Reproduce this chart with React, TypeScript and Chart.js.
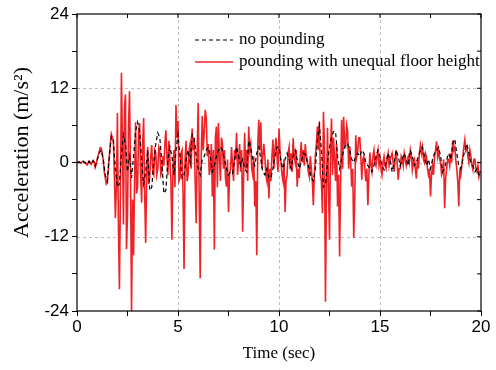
import { useEffect, useRef } from 'react';
import { Chart, registerables } from 'chart.js';

Chart.register(...registerables);

// sampling steps of the two records (s)
const NO_POUNDING_STEP = 0.1;
const POUNDING_STEP = 0.05;

// no pounding (m/s^2), one value every 0.1 s from 0 to 20 s
const noPounding: number[] = [
  0, 0.1, -0.1, 0.2, 0, -0.3, 0.2, -0.2, 0.3, -0.6,
  0.4, 1.5, 2.0, 0.5, -2.0, -3.0, 1.0, 4.2, 3.5, -1.0,
  -4.0, -3.5, 1.5, 4.5, 3.0, -1.5, 1.0, -2.5, 1.0, 5.0,
  6.5, 5.0, 0.5, -3.5, -1.5, 2.0, -4.5, -4.0, 0.0, 3.0,
  4.8, 4.0, 0.0, -5.0, -4.5, 0.5, 2.5, 1.0, -2.0, 2.0,
  4.5, 1.0, -2.5, -2.0, 0.5, 2.0, 0.0, 4.5, 4.0, 1.0,
  -1.0, -2.0, 0.5, 1.0, 2.0, 2.5, 1.0, -1.5, -0.5, 1.0,
  2.0, 2.5, 2.0, 0.5, -1.0, -2.0, -1.5, -1.8, 0.5, 2.5,
  1.0, -0.5, 0.5, -1.0, -1.5, 3.5, 2.5, 0.5, -0.5, 1.5,
  2.5, 0.5, -1.5, -2.0, -1.0, -2.5, -2.5, -1.0, 1.0, 2.5,
  2.5, 0.0, -1.0, 0.5, 1.5, 0.5, -1.0, 1.0, 2.0, 0.5,
  -1.0, 0.0, 1.5, 1.3, 0.0, -1.0, -2.5, -3.0, -1.0, 3.5,
  6.0, 2.0, -4.0, -3.5, 0.0, 2.5, 4.0, 5.0, 5.0, 1.0,
  -1.0, 0.5, 2.0, 3.0, 3.0, 2.0, 0.5, 0.0, 1.0, 1.5,
  1.0, 2.0, 1.5, 0.0, -0.5, -1.0, -1.5, -0.5, 1.0, 2.0,
  1.0, -0.5, -1.2, 0.0, 1.5, 0.5, -1.5, 0.0, 2.0, 1.0,
  -0.5, 0.5, 1.5, 0.5, -0.5, 2.0, 1.0, -0.5, 0.0, 1.0,
  2.0, 2.5, 1.0, -0.5, 0.5, -1.0, 0.5, 1.5, 2.0, 2.5,
  1.0, -1.5, -1.0, 0.5, 1.5, 0.5, 3.0, 3.8, 1.5, -0.5,
  -1.0, 0.5, 2.0, 3.0, 1.5, 0.0, -0.5, -1.5, -1.0, -2.0,
  -2.5,
];

// pounding with unequal floor height (m/s^2), one value every 0.05 s
const poundingUnequal: number[] = [
  0, 0.05, 0.1, 0, -0.1, 0.1, 0.2, 0, 0, -0.2, -0.4, -0.1, 0.2, 0, -0.3, 0, 0.3, 0.1, -0.8, -0.3,
  0.5, 1.2, 1.8, 2.4, 2.3, 1.5, 0.3, -1.5, -2.5, -3.5, -3.3, -1.0, 1.0, 3.0, 4.6, 4.0, 3.6, -2.0, -9.0, -4.0,
  8.0, -10.0, -20.5, -5.0, 14.5, 3.0, -10.0, 9.0, 11.0, -14.0, -8.5, 6.0, 11.5, -2.0, -24.5, -6.0, -15.0, -3.0, 6.5, -5.0,
  -4.0, 5.0, 6.4, -2.0, -6.5, 3.0, 7.2, -5.0, -13.0, -2.0, 2.5, -3.5, -2.3, 1.0, 2.8, -1.5, -2.0, 2.0, 1.5, -2.0,
  -1.0, 2.5, 2.0, -2.0, -1.5, 1.0, -0.5, 3.0, 5.2, 1.0, -2.0, 3.5, 0.5, -3.0, -12.5, -1.0, 2.0, -4.0, 9.3, 4.0,
  6.7, -3.0, -2.5, 1.5, 2.0, -5.0, -17.2, 0.5, 3.5, -3.0, -2.0, 2.0, 3.0, -1.0, 5.5, 2.0, 4.0, -3.0, -9.8, 2.0,
  9.6, -6.0, -18.7, 1.0, 7.5, 2.0, 5.0, 8.5, 7.2, 1.0, 3.0, -2.0, -1.0, 3.0, -5.5, 2.0, -14.1, 4.0, 5.8, -4.0,
  6.4, 1.0, -3.0, 4.0, 3.0, -1.0, 2.0, -2.5, -3.9, 0.5, -8.0, -2.0, -1.0, 2.5, -0.5, -3.0, 2.0, 0.5, 4.8, -2.0,
  0.5, 3.0, -1.5, 2.0, -11.2, -2.0, 4.8, -1.0, 2.0, -3.0, 5.8, 2.0, 3.0, -1.0, -2.0, 1.0, -7.1, -3.0, -15.0, 3.0,
  6.9, 2.0, 6.5, -1.0, 1.0, 3.0, 1.0, -2.0, -3.0, 0.5, -5.8, -1.0, -3.0, 1.0, 3.7, -1.0, 2.0, 4.0, 1.0, -1.5,
  5.5, 2.0, 0.0, -2.0, -3.0, 0.5, -8.0, -3.0, -2.0, 1.5, 2.5, -1.0, 1.5, -1.5, 3.9, 1.0, 0.0, 2.0, -3.9, -1.0,
  -2.5, 1.0, 3.3, 0.0, 2.0, -0.5, 3.0, 1.0, 0.5, -1.5, -2.3, 1.0, -1.0, -3.0, -6.9, -2.0, 1.0, 3.0, 5.8, 2.0,
  6.6, -2.0, -3.0, -8.2, 8.2, 3.0, -22.5, -5.0, 5.6, -4.0, -12.5, 2.0, 7.1, -2.0, 4.0, 0.5, -3.0, 3.0, -7.1, -2.0,
  -15.2, -3.0, 6.9, -1.0, 7.4, 3.0, 2.6, 6.0, 5.0, -1.0, 2.6, 0.0, -3.9, -1.0, -12.2, -6.0, 4.4, 1.0, 2.0, 4.0,
  4.0, 1.0, -2.8, 0.5, 1.0, -1.0, -3.0, -1.0, -6.9, -2.0, 1.6, -0.5, -1.5, 1.0, 2.0, 0.0, -0.5, 1.0, 2.0, -0.5,
  0.5, -1.0, -2.0, 0.0, 1.0, -0.5, -1.0, 0.5, 1.5, -0.5, 0.5, 1.0, 1.5, 0.0, -1.5, 0.5, 2.0, 0.0, -2.8, -1.0,
  -1.0, 1.0, 0.5, -0.5, 1.5, 0.5, -0.5, 0.5, 1.0, 0.0, 2.0, 1.0, -1.2, 0.0, 0.5, -1.0, -2.6, 0.5, -1.0, 1.5,
  2.8, 1.5, 2.5, 0.5, 0.0, 1.5, 1.0, -1.0, -2.0, -1.0, -5.5, -2.0, -0.5, -2.0, 1.0, 2.0, 3.4, 1.0, 2.0, 0.5,
  0.0, -2.0, -1.5, 0.5, -7.4, -2.5, -1.0, 0.5, 0.5, -0.5, 1.5, 0.0, 3.6, 2.0, 2.5, 0.5, -1.0, -3.0, -7.1, -1.0,
  -2.0, -0.5, 1.0, 2.5, 3.7, 2.0, 2.5, 1.0, 0.0, 2.0, 1.0, -0.5, -1.2, 0.5, 0.5, -1.0, -1.5, -0.5, -2.3, -1.5,
  -1.5,
];

const seriesLabels = ['no pounding', 'pounding with unequal floor height'];
const xTitle = 'Time (sec)';
const yTitle = 'Acceleration (m/s\u00B2)';
const xMajorTicks = [5, 10, 15];
const yMajorTicks = [-12, 0, 12];

const SERIF = '"Liberation Serif", "Times New Roman", serif';
const SANS = '"Liberation Sans", Arial, sans-serif';

const toPoints = (vals: number[], step: number) =>
  vals.map((v, i) => ({ x: Math.round(i * step * 100) / 100, y: v }));

const framePlugin = {
  id: 'framePlugin',
  beforeDatasetsDraw(chart: any) {
    const { ctx, chartArea: a, scales } = chart;
    ctx.save();
    ctx.strokeStyle = '#bdbdbd';
    ctx.lineWidth = 1;
    ctx.setLineDash([3, 3]);
    xMajorTicks.forEach((t) => {
      const px = Math.round(scales.x.getPixelForValue(t)) + 0.5;
      ctx.beginPath();
      ctx.moveTo(px, a.top);
      ctx.lineTo(px, a.bottom);
      ctx.stroke();
    });
    yMajorTicks.forEach((t) => {
      const py = Math.round(scales.y.getPixelForValue(t)) + 0.5;
      ctx.beginPath();
      ctx.moveTo(a.left, py);
      ctx.lineTo(a.right, py);
      ctx.stroke();
    });
    ctx.restore();
  },
  afterDatasetsDraw(chart: any) {
    const { ctx, chartArea: a, scales } = chart;
    ctx.save();
    ctx.strokeStyle = '#000';
    ctx.lineWidth = 1.2;
    ctx.setLineDash([]);
    ctx.strokeRect(a.left, a.top, a.right - a.left, a.bottom - a.top);
    ctx.lineWidth = 1;
    scales.x.ticks.forEach((tk: any) => {
      const px = scales.x.getPixelForValue(tk.value);
      ctx.beginPath();
      ctx.moveTo(px, a.top);
      ctx.lineTo(px, a.top + 4);
      ctx.stroke();
    });
    scales.y.ticks.forEach((tk: any) => {
      const py = scales.y.getPixelForValue(tk.value);
      ctx.beginPath();
      ctx.moveTo(a.right, py);
      ctx.lineTo(a.right - 4, py);
      ctx.stroke();
    });
    ctx.restore();
  },
  afterDraw(chart: any) {
    const { ctx, chartArea: a } = chart;
    ctx.save();
    ctx.font = `17px ${SERIF}`;
    ctx.fillStyle = '#000';
    ctx.textBaseline = 'middle';
    ctx.textAlign = 'left';
    chart.data.datasets.forEach((ds: any, i: number) => {
      const y = a.top + 26 + i * 22;
      const x0 = a.left + 118;
      ctx.strokeStyle = ds.borderColor;
      ctx.lineWidth = ds.borderWidth;
      ctx.setLineDash(ds.borderDash || []);
      ctx.beginPath();
      ctx.moveTo(x0, y);
      ctx.lineTo(x0 + 38, y);
      ctx.stroke();
      ctx.fillText(ds.label, x0 + 44, y);
    });
    ctx.restore();

    // y-axis title
    ctx.save();
    ctx.translate(22, (a.top + a.bottom) / 2 - 10);
    ctx.rotate(-Math.PI / 2);
    ctx.font = `22px ${SERIF}`;
    ctx.fillStyle = '#000';
    ctx.textAlign = 'center';
    ctx.textBaseline = 'middle';
    ctx.fillText(yTitle, 0, 0);
    ctx.restore();
  },
};

export default function App() {
  const canvasRef = useRef<HTMLCanvasElement | null>(null);

  useEffect(() => {
    document.body.style.margin = '0';
    const canvas = canvasRef.current;
    if (!canvas) return;
    const chart = new Chart(canvas, {
      type: 'line',
      data: {
        datasets: [
          {
            label: seriesLabels[0],
            data: toPoints(noPounding, NO_POUNDING_STEP),
            borderColor: '#000000',
            borderWidth: 1.2,
            borderDash: [4, 3],
            pointRadius: 0,
            tension: 0,
          },
          {
            label: seriesLabels[1],
            data: toPoints(poundingUnequal, POUNDING_STEP),
            borderColor: '#ee2328',
            borderWidth: 1.6,
            pointRadius: 0,
            tension: 0,
          },
        ],
      },
      options: {
        animation: false,
        responsive: false,
        maintainAspectRatio: false,
        layout: { padding: { left: 0, right: 15, top: 14, bottom: 0 } },
        plugins: {
          legend: { display: false },
          tooltip: { enabled: false },
        },
        scales: {
          x: {
            type: 'linear',
            min: 0,
            max: 20,
            ticks: {
              stepSize: 2.5,
              autoSkip: false,
              maxRotation: 0,
              color: '#000',
              padding: 1,
              font: { family: SANS, size: 17 },
              callback: (v: any) => (Number(v) % 5 === 0 ? String(v) : ''),
            },
            grid: {
              drawOnChartArea: false,
              drawTicks: true,
              tickLength: 5,
              tickColor: '#000',
            },
            border: { display: false },
            title: {
              display: true,
              text: xTitle,
              color: '#000',
              font: { family: SERIF, size: 17 },
              padding: { top: 0, bottom: 6 },
            },
            afterFit: (s: any) => {
              s.height = 59;
            },
          },
          y: {
            type: 'linear',
            min: -24,
            max: 24,
            ticks: {
              stepSize: 6,
              autoSkip: false,
              color: '#000',
              padding: 3,
              font: { family: SANS, size: 17 },
              callback: (v: any) => (Number(v) % 12 === 0 ? String(v) : ''),
            },
            grid: {
              drawOnChartArea: false,
              drawTicks: true,
              tickLength: 5,
              tickColor: '#000',
            },
            border: { display: false },
            title: { display: false },
            afterFit: (s: any) => {
              s.width = 77;
            },
          },
        },
      },
      plugins: [framePlugin],
    });
    return () => chart.destroy();
  }, []);

  return (
    <div style={{ width: 496, height: 370 }}>
      <canvas ref={canvasRef} width={496} height={370} style={{ display: 'block' }} />
    </div>
  );
}
